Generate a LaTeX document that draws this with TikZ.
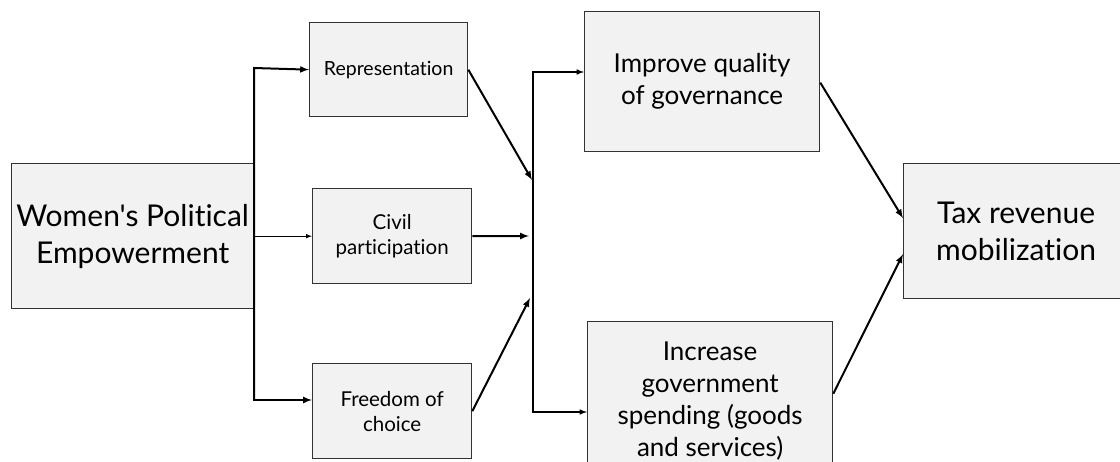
\documentclass[tikz,border=0pt]{standalone}
\usepackage{fontspec}
\setmainfont{Lato}[Ligatures={TeXOff,NoCommon}]
\newlength{\midw}
\newlength{\midh}
\usepackage{tikz}
\usetikzlibrary{positioning}
\tikzstyle{box}=[draw=black!80, fill=black!5, rectangle, line width=1.3pt, align=center, anchor=north west]
\tikzstyle{bigtxt}=[font=\fontsize{30}{37}\selectfont]
\tikzstyle{midtxt}=[font=\fontsize{26}{32}\selectfont]
\tikzstyle{smalltxt}=[font=\fontsize{20.5}{25}\selectfont]
\tikzstyle{link}=[line width=2pt]
\tikzstyle{thinlink}=[line width=1pt]

\begin{document}
\begin{tikzpicture}[x=1pt, y=-1pt, inner sep=0pt, line width=1.3pt, -latex]

				\setlength{\midw}{159pt}
				\setlength{\midh}{95pt}

				\useasboundingbox (0,0) rectangle (1120,461);
				\clip (0,0) rectangle (1120,461);

				\node (women) [box, bigtxt, minimum width=242pt, minimum height=145pt] at (11,163) {Women's Political\\Empowerment};
				%
				\node (repr) [box, smalltxt, font=\fontsize{19.5}{22}\selectfont, minimum width=158pt, minimum height=94pt] at (309,22) {Representation};
				\node (civil) [box, smalltxt, minimum width=\midw, minimum height=\midh] at (312,188) {Civil\\participation};
				\node (freedom) [box, smalltxt, minimum width=\midw, minimum height=\midh] at (312,363) {Freedom of\\choice};
				%
				\node (improve) [box, midtxt, minimum width=235pt, minimum height=140pt] at (584,11) {Improve quality\\of governance};
				\node (increase) [box, midtxt, minimum width=245pt, minimum height=158pt] at (587,321) {Increase\\government\\spending (goods\\and services)};
				\node (tax) [box, bigtxt, minimum width=225pt, minimum height=135pt] at (903,163) {Tax revenue\\mobilization};

				\coordinate (splitT) at (254,68);
				\coordinate (splitB) at (254,400);
				\coordinate (mergeA) at (532,180);
				\coordinate (mergeB) at (529,236);
				\coordinate (mergeC) at (530,298);
				\coordinate (joinT) at (533,72);
				\coordinate (joinB) at (533,412);

				\draw [link] (splitB) to (splitT) to (repr.west);
				\draw [link] (splitT) to (splitB) to (freedom.west |- splitB);
				\draw [thinlink] (women.east) to (civil.west);
				\draw [link] (repr.east) to (mergeA);
				\draw [link] (civil.east) to (mergeB);
				\draw [link] (freedom.east) to (mergeC);
				\draw [line width=1.5pt] (joinB) to (joinT) to (improve.west |- joinT);
				\draw [line width=1.5pt] (joinT) to (joinB) to (increase.west |- joinB);
				\draw [link] ([yshift=-1pt]improve.east) to ([yshift=13pt]tax.west);
				\draw [link] ([yshift=7pt]increase.east) to ([yshift=-23pt]tax.west);
				\end{tikzpicture}
\end{document}
